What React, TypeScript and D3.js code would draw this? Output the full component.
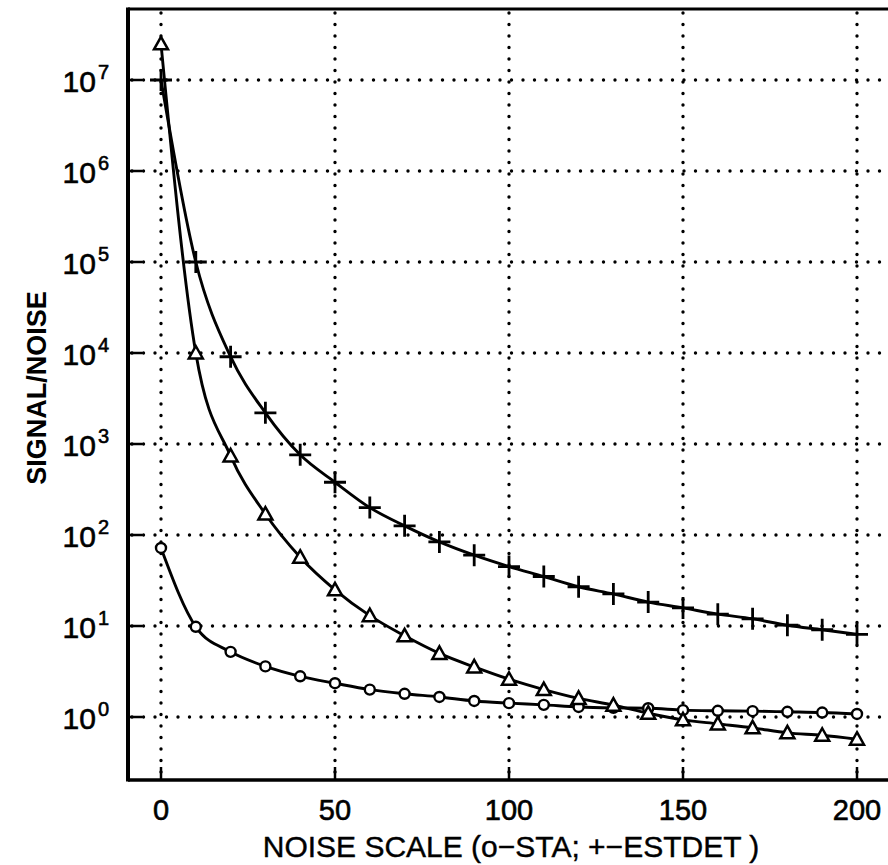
import React, { useEffect, useRef } from 'react';
import * as d3 from 'd3';

// noise scale values (x)
const noiseScale = [0, 10, 20, 30, 40, 50, 60, 70, 80, 90, 100, 110, 120, 130, 140, 150, 160, 170, 180, 190, 200];

// o - STA
const staValues = [72, 9.8, 5.2, 3.6, 2.8, 2.35, 2.0, 1.8, 1.66, 1.5, 1.42, 1.36, 1.29, 1.26, 1.25, 1.19, 1.17, 1.16, 1.14, 1.12, 1.08];

// + - ESTDET
const estdetValues = [1e7, 1e5, 9100, 2200, 760, 380, 200, 126, 84, 60, 45, 35, 27, 22.5, 18.3, 15.8, 13.5, 12, 10.2, 9.1, 8.1];

// triangle series
const triValues = [2.5e7, 1e4, 740, 170, 57, 25, 13, 7.8, 5.0, 3.55, 2.6, 2.0, 1.6, 1.35, 1.1, 0.93, 0.84, 0.76, 0.67, 0.63, 0.57];

const xTicks = [0, 50, 100, 150, 200];
const yExponents = [0, 1, 2, 3, 4, 5, 6, 7];

const xTitle = 'NOISE SCALE (o\u2212STA; +\u2212ESTDET )';
const yTitle = 'SIGNAL/NOISE';

function App() {
    const ref = useRef<SVGSVGElement>(null);

    useEffect(() => {
        drawChart();
    }, []);

    function drawChart() {
        const svgWidth = 888, svgHeight = 865;
        const frame = { left: 128, top: 9, right: 892, bottom: 780 };

        const svg = d3.select(ref.current)
            .attr('width', svgWidth)
            .attr('height', svgHeight);
        svg.selectAll('*').remove();

        const x = d3.scaleLinear().domain([0, 200]).range([161, 857]);
        const y = d3.scaleLog().domain([1, 1e7]).range([717, 80]);

        const font = '"Liberation Sans", Arial, sans-serif';

        // dotted grid
        const grid = svg.append('g')
            .attr('stroke', '#000')
            .attr('stroke-width', 3.4)
            .attr('stroke-linecap', 'round')
            .attr('stroke-dasharray', '0 11.5');

        grid.selectAll('line.h')
            .data(yExponents)
            .join('line')
            .attr('class', 'h')
            .attr('x1', frame.left + 4)
            .attr('x2', frame.right)
            .attr('y1', d => y(Math.pow(10, d)))
            .attr('y2', d => y(Math.pow(10, d)));

        grid.selectAll('line.v')
            .data(xTicks)
            .join('line')
            .attr('class', 'v')
            .attr('x1', d => x(d))
            .attr('x2', d => x(d))
            .attr('y1', frame.top + 4)
            .attr('y2', frame.bottom);

        // frame
        svg.append('line')
            .attr('x1', frame.left).attr('x2', frame.left)
            .attr('y1', frame.top - 1.5).attr('y2', frame.bottom + 1.5)
            .attr('stroke', '#000').attr('stroke-width', 4);
        svg.append('line')
            .attr('x1', frame.left).attr('x2', frame.right)
            .attr('y1', frame.top).attr('y2', frame.top)
            .attr('stroke', '#000').attr('stroke-width', 3);
        svg.append('line')
            .attr('x1', frame.left).attr('x2', frame.right)
            .attr('y1', frame.bottom).attr('y2', frame.bottom)
            .attr('stroke', '#000').attr('stroke-width', 3.5);

        // ticks
        svg.append('g').selectAll('line')
            .data(xTicks)
            .join('line')
            .attr('x1', d => x(d)).attr('x2', d => x(d))
            .attr('y1', frame.bottom).attr('y2', frame.bottom - 13)
            .attr('stroke', '#000').attr('stroke-width', 2.5);

        svg.append('g').selectAll('line')
            .data(yExponents)
            .join('line')
            .attr('x1', frame.left).attr('x2', frame.left + 14)
            .attr('y1', d => y(Math.pow(10, d))).attr('y2', d => y(Math.pow(10, d)))
            .attr('stroke', '#000').attr('stroke-width', 2.5);

        // tick labels
        svg.append('g').selectAll('text')
            .data(xTicks)
            .join('text')
            .attr('x', d => x(d))
            .attr('y', 820)
            .attr('text-anchor', 'middle')
            .attr('font-family', font)
            .attr('font-size', 29)
            .attr('stroke', '#000')
            .attr('stroke-width', 0.6)
            .text(d => d);

        const yLabels = svg.append('g').selectAll('text')
            .data(yExponents)
            .join('text')
            .attr('x', 109)
            .attr('y', d => y(Math.pow(10, d)) + 12)
            .attr('text-anchor', 'end')
            .attr('font-family', font)
            .attr('font-size', 30)
            .attr('stroke', '#000')
            .attr('stroke-width', 0.6);
        yLabels.append('tspan').text('10');
        yLabels.append('tspan')
            .attr('font-size', 20)
            .attr('dx', 2)
            .attr('dy', -13)
            .text(d => d);

        // axis titles
        svg.append('text')
            .attr('x', 511)
            .attr('y', 857)
            .attr('text-anchor', 'middle')
            .attr('font-family', font)
            .attr('font-size', 30)
            .attr('stroke', '#000')
            .attr('stroke-width', 0.4)
            .text(xTitle);

        svg.append('text')
            .attr('transform', 'translate(46,388) rotate(-90)')
            .attr('text-anchor', 'middle')
            .attr('font-family', font)
            .attr('font-weight', 'bold')
            .attr('font-size', 27)
            .text(yTitle);

        // curves
        const line = d3.line<number>()
            .x((d, i) => x(noiseScale[i]))
            .y(d => y(d))
            .curve(d3.curveMonotoneX);

        [staValues, estdetValues, triValues].forEach(series => {
            svg.append('path')
                .datum(series)
                .attr('fill', 'none')
                .attr('stroke', '#000')
                .attr('stroke-width', 2.9)
                .attr('d', line);
        });

        // markers
        svg.append('g').selectAll('circle')
            .data(staValues)
            .join('circle')
            .attr('cx', (d, i) => x(noiseScale[i]))
            .attr('cy', d => y(d))
            .attr('r', 5)
            .attr('fill', '#fff')
            .attr('stroke', '#000')
            .attr('stroke-width', 2.4);

        svg.append('g').selectAll('path')
            .data(triValues)
            .join('path')
            .attr('transform', (d, i) => `translate(${x(noiseScale[i])},${y(d)})`)
            .attr('d', 'M0,-7L7,5.5L-7,5.5Z')
            .attr('fill', '#fff')
            .attr('stroke', '#000')
            .attr('stroke-width', 2.5)
            .attr('stroke-linejoin', 'miter');

        svg.append('g').selectAll('path')
            .data(estdetValues)
            .join('path')
            .attr('transform', (d, i) => `translate(${x(noiseScale[i])},${y(d)})`)
            .attr('d', 'M-11,0H11M0,-11V11')
            .attr('fill', 'none')
            .attr('stroke', '#000')
            .attr('stroke-width', 2.8);
    }

    return (
        <div>
            <svg ref={ref} style={{ position: 'absolute', left: 0, top: 0 }}></svg>
        </div>
    );
}

export default App;
